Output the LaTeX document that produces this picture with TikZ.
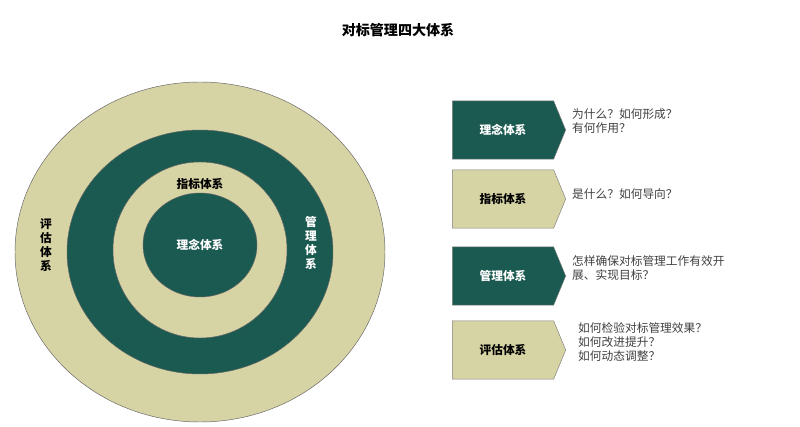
\documentclass[tikz,border=0pt]{standalone}
\usepackage{fontspec}
\setmainfont{Noto Sans CJK SC}
\usetikzlibrary{shapes.symbols, positioning}
\definecolor{tealdark}{HTML}{1B5A50}
\definecolor{khaki}{HTML}{D6D3A4}
\tikzset{
  ring/.style={draw=black!60,thin},
  tag/.style={signal,signal to=east,signal pointer angle=135,draw=black!50,
    minimum width=3.4cm,minimum height=1.75cm,inner sep=0pt,font=\bfseries\normalsize},
  tagdark/.style={tag,fill=tealdark,text=white},
  taglight/.style={tag,fill=khaki,text=black},
  note/.style={anchor=north west,align=left,font=\normalsize,text=black!75,inner sep=0pt},
  vlabel/.style={align=center,font=\bfseries\normalsize,inner sep=0pt},
}
\begin{document}
\begin{tikzpicture}[x=0.03cm,y=-0.03cm]
  \useasboundingbox (0,0) rectangle (800,427);
  \node[font=\bfseries\large] (title) at (398,30) {对标管理四大体系};
  % rings
  \draw[ring,fill=khaki] (200,252) ellipse [x radius=185,y radius=170];
  \draw[ring,fill=tealdark] (200,252) ellipse [x radius=133,y radius=122];
  \draw[ring,fill=khaki] (200,250) ellipse [x radius=87,y radius=88];
  \draw[ring,fill=tealdark] (200,245) ellipse [x radius=57,y radius=52];
  \node[vlabel] (L4) at (46,245) {评\\估\\体\\系};
  \node[vlabel,text=white] (L3) at (311,243) {管\\理\\体\\系};
  \node[vlabel] (L2) at (200,184) {指标体系};
  \node[vlabel,text=white] (L1) at (200,245) {理念体系};
  % tags
  \node[tagdark] (T1) at (503,130) {理念体系};
  \node[taglight] (T2) at (503,199) {指标体系};
  \node[tagdark] (T3) at (503,276) {管理体系};
  \node[taglight] (T4) at (503,350) {评估体系};
  \node[note] (N1) at (572,108) {为什么？如何形成？\\有何作用？};
  \node[note] (N2) at (572,188) {是什么？如何导向？};
  \node[note] (N3) at (572,255) {怎样确保对标管理工作有效开\\展、实现目标？};
  \node[note] (N4) at (578,322) {如何检验对标管理效果？\\如何改进提升？\\如何动态调整？};
\end{tikzpicture}
\end{document}
